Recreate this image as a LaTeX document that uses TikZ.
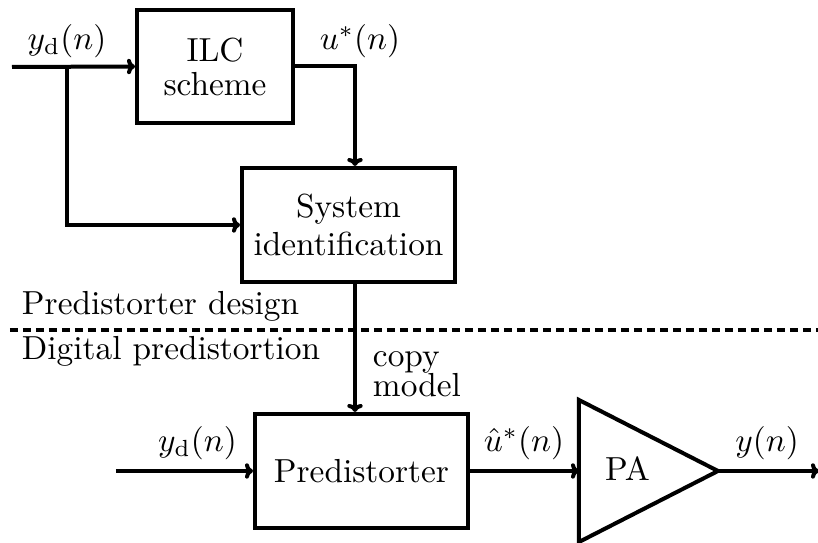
\documentclass[tikz,border=0pt]{standalone}
\usetikzlibrary{arrows.meta}
\begin{document}
\begin{tikzpicture}[x=0.3pt,y=-0.3pt,
  line width=1.2pt,
  >={To[length=2.4pt,width=4.6pt]},
  blk/.style={draw, rectangle, inner sep=0pt, align=center},
  lbl/.style={inner sep=0pt, anchor=base},
  note/.style={inner sep=0pt, anchor=base west}]
\useasboundingbox (0,0) rectangle (818,543);

% blocks
\node[blk, minimum width=46.8pt, minimum height=33.9pt] (ilc) at (215,66.5) {ILC\\[-1.8pt]scheme};
\node[blk, minimum width=63.9pt, minimum height=34.2pt] (sid) at (348.5,225) {System\\[-0.8pt]identification};
\node[blk, minimum width=63.9pt, minimum height=34.2pt] (pd) at (361.5,471) {Predistorter};

% power amplifier
\coordinate (pat) at (579,400);
\coordinate (pab) at (579,542);
\coordinate (pax) at (718,471);
\coordinate (pain) at (579,471);
\draw[line join=miter] (pat) -- (pax) -- (pab) -- cycle;
\node (pa) at (627.5,469) {PA};

% design part
\coordinate (in1) at (12,67);
\coordinate (br) at (67,67);
\coordinate (vx) at (355,0);
\draw[->] (in1) -- (ilc.west);
\draw[->] (br) |- (sid.west);
\draw[->] (ilc.east) -| (vx |- sid.north);
\draw[->] (vx |- sid.south) -- (vx |- pd.north);

% predistortion part
\coordinate (in2) at (116,471);
\coordinate (out) at (819,471);
\draw[->] (in2) -- (pd.west);
\draw[->] (pd.east) -- (pain);
\draw[->] (pax) -- (out);

% separator
\coordinate (dl) at (10,330);
\coordinate (dr) at (818,330);
\draw[line width=1pt, dash pattern=on 2.4pt off 1.5pt] (dl) -- (dr);

% signal labels
\node[lbl] (l1) at (67,50) {$y_{\mathrm{d}}(n)$};
\node[lbl] (l2) at (360,50) {$u^*(n)$};
\node[lbl] (l3) at (197.5,452) {$y_{\mathrm{d}}(n)$};
\node[lbl] (l4) at (524,452) {$\hat{u}^*(n)$};
\node[lbl] (l5) at (767,452) {$y(n)$};

% section labels
\node[note] (pdes) at (20,315) {Predistorter design};
\node[note] (dpd) at (20,360) {Digital predistortion};
\node[inner sep=0pt, anchor=north west, align=left] (cm) at (371,349.5) {copy\\[-3.0pt]model};
\end{tikzpicture}
\end{document}
